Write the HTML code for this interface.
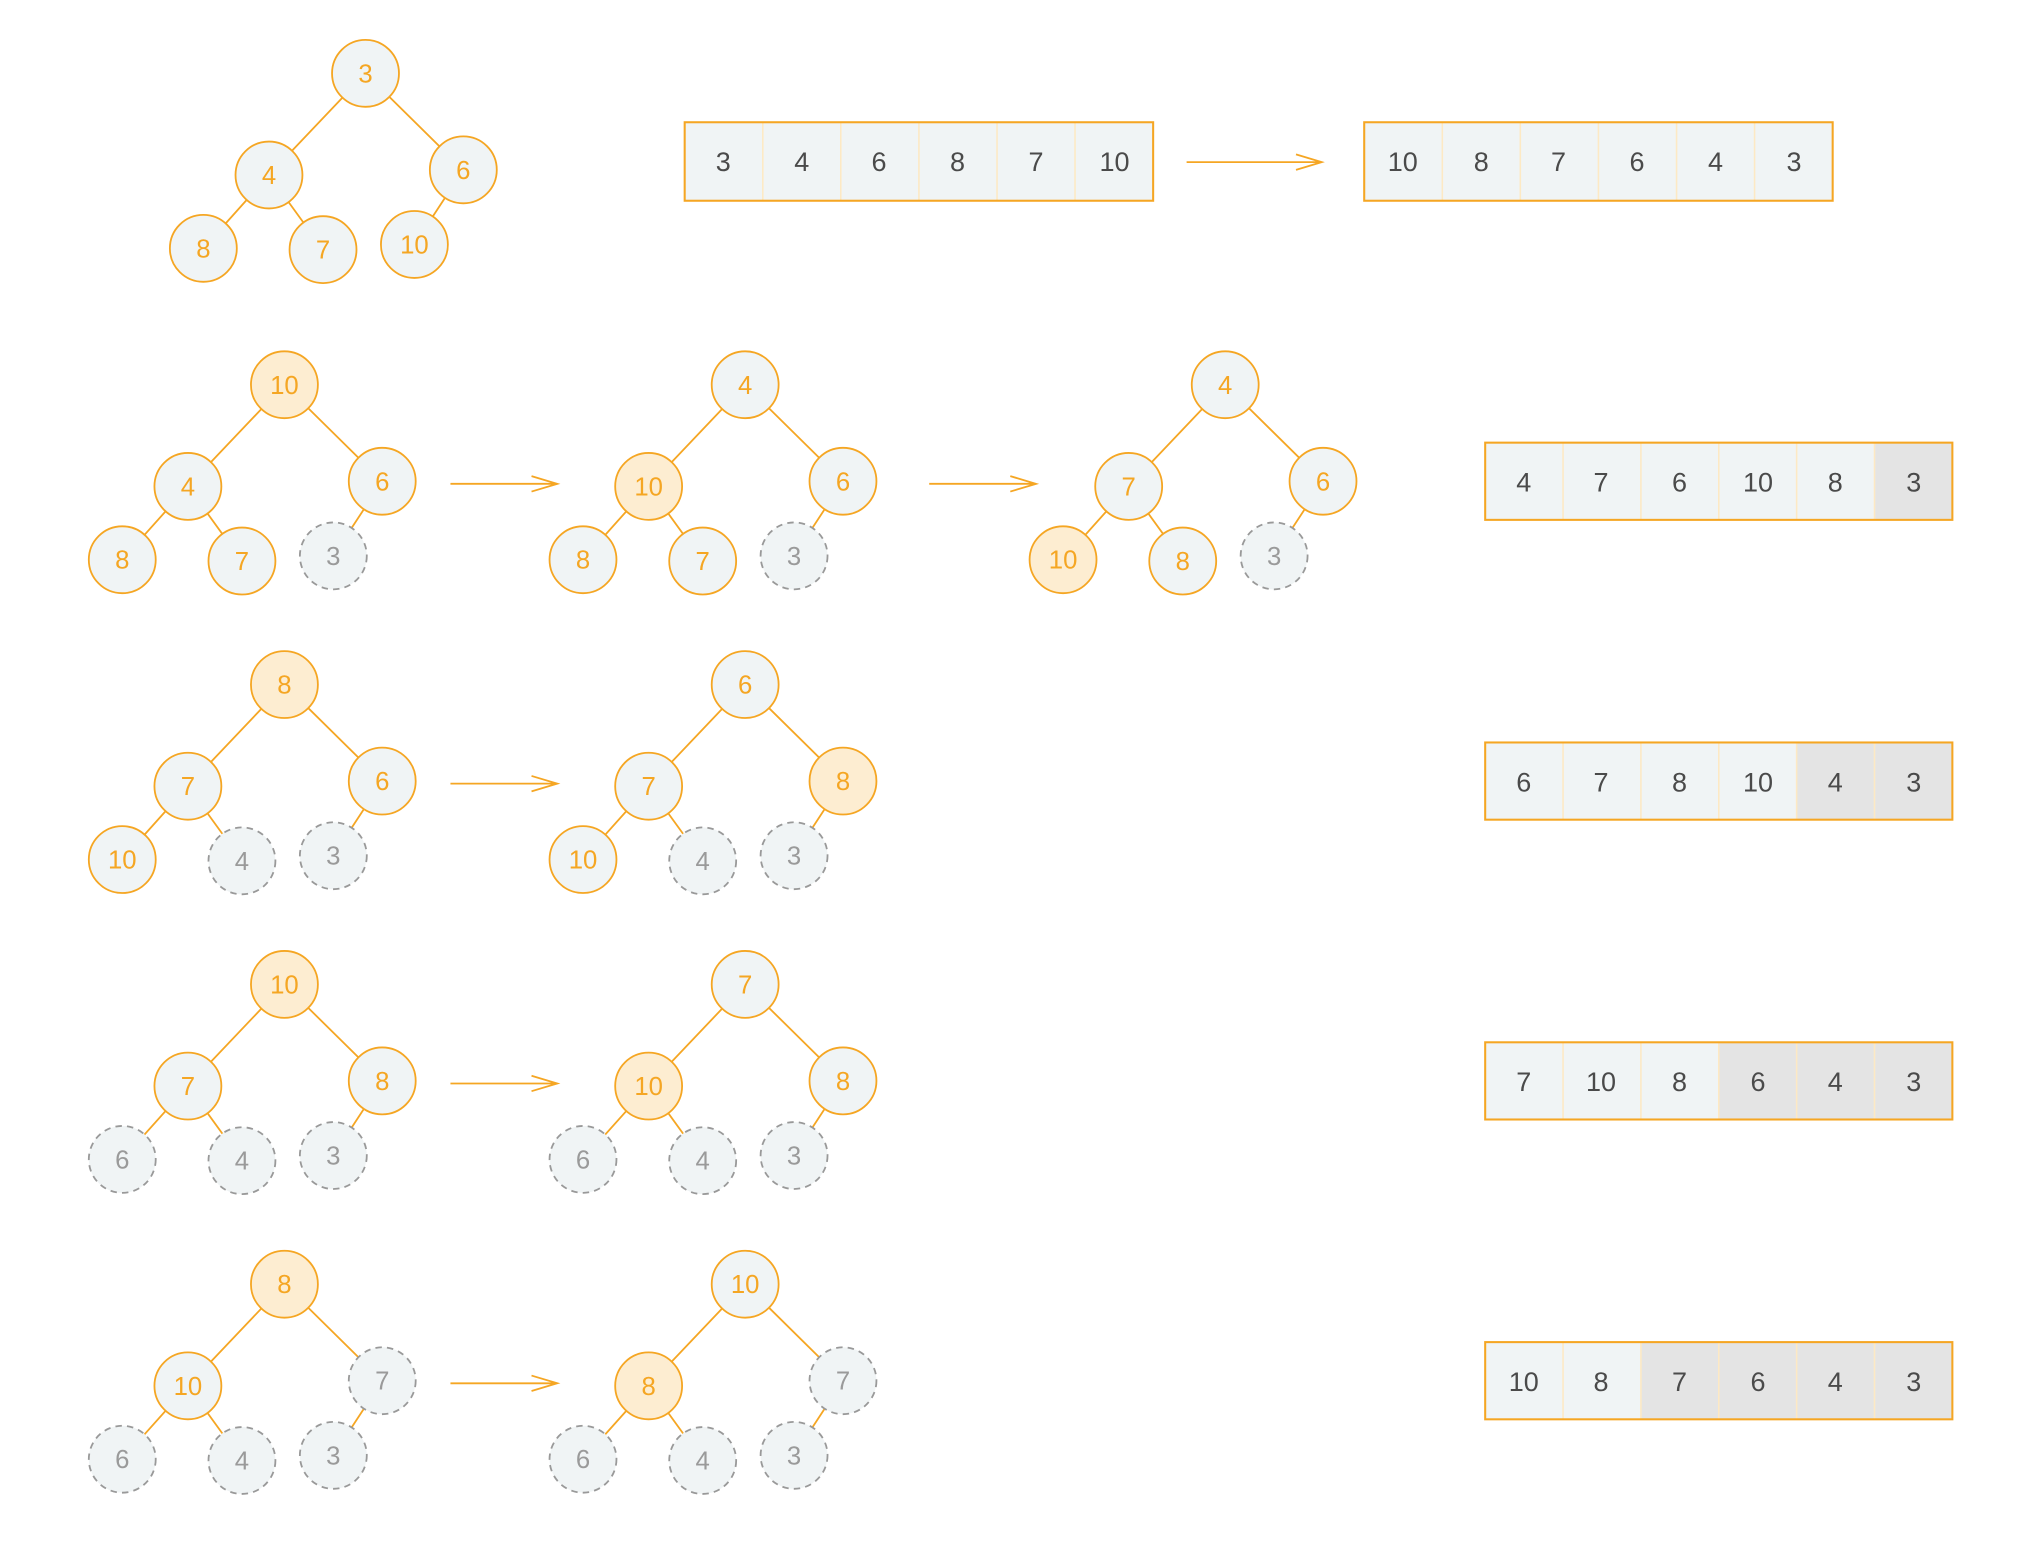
<!DOCTYPE html>
<html><head><meta charset="utf-8"><style>
html,body{margin:0;padding:0;background:#fff}
svg{display:block}
.e{stroke:#f5a623;stroke-width:1.4;fill:none}
circle.o{fill:#f0f4f5;stroke:#f5a623;stroke-width:1.4}
circle.h{fill:#fdedd1;stroke:#f5a623;stroke-width:1.4}
circle.d{fill:#f0f4f5;stroke:#999;stroke-width:1.4;stroke-dasharray:5 4}
text{font-family:"Liberation Sans",sans-serif;font-size:20px;text-anchor:middle}
text.o{fill:#f5a623}
text.g{fill:#9a9a9a}
text.a{fill:#4a4a4a;font-size:21px}
.cell{fill:#f0f4f5}
.dim{fill:#e4e4e4}
.sep{stroke:#fde9c4;stroke-width:1.2}
.box{fill:none;stroke:#f5a623;stroke-width:1.6}
</style></head><body>
<svg width="2018" height="1548" viewBox="0 0 1568 1203" preserveAspectRatio="none" xmlns="http://www.w3.org/2000/svg">
<defs>
<g id="edges"><path class="e" d="M0 0L-75 79M0 0L76 75M-75 79L-126 136M-75 79L-33 137M76 75L38 133"/></g>
</defs>

<!-- Row 1 tree -->
<g transform="translate(284,57)">
<use href="#edges"/>
<circle class="o" cx="0" cy="0" r="26"/><text class="o" x="0" y="7">3</text>
<circle class="o" cx="-75" cy="79" r="26"/><text class="o" x="-75" y="86">4</text>
<circle class="o" cx="76" cy="75" r="26"/><text class="o" x="76" y="82">6</text>
<circle class="o" cx="-126" cy="136" r="26"/><text class="o" x="-126" y="143">8</text>
<circle class="o" cx="-33" cy="137" r="26"/><text class="o" x="-33" y="144">7</text>
<circle class="o" cx="38" cy="133" r="26"/><text class="o" x="38" y="140">10</text>
</g>

<!-- Row 2 -->
<g transform="translate(221,299)">
<use href="#edges"/>
<circle class="h" cx="0" cy="0" r="26"/><text class="o" x="0" y="7">10</text>
<circle class="o" cx="-75" cy="79" r="26"/><text class="o" x="-75" y="86">4</text>
<circle class="o" cx="76" cy="75" r="26"/><text class="o" x="76" y="82">6</text>
<circle class="o" cx="-126" cy="136" r="26"/><text class="o" x="-126" y="143">8</text>
<circle class="o" cx="-33" cy="137" r="26"/><text class="o" x="-33" y="144">7</text>
<circle class="d" cx="38" cy="133" r="26"/><text class="g" x="38" y="140">3</text>
</g>
<g transform="translate(579,299)">
<use href="#edges"/>
<circle class="o" cx="0" cy="0" r="26"/><text class="o" x="0" y="7">4</text>
<circle class="h" cx="-75" cy="79" r="26"/><text class="o" x="-75" y="86">10</text>
<circle class="o" cx="76" cy="75" r="26"/><text class="o" x="76" y="82">6</text>
<circle class="o" cx="-126" cy="136" r="26"/><text class="o" x="-126" y="143">8</text>
<circle class="o" cx="-33" cy="137" r="26"/><text class="o" x="-33" y="144">7</text>
<circle class="d" cx="38" cy="133" r="26"/><text class="g" x="38" y="140">3</text>
</g>
<g transform="translate(952,299)">
<use href="#edges"/>
<circle class="o" cx="0" cy="0" r="26"/><text class="o" x="0" y="7">4</text>
<circle class="o" cx="-75" cy="79" r="26"/><text class="o" x="-75" y="86">7</text>
<circle class="o" cx="76" cy="75" r="26"/><text class="o" x="76" y="82">6</text>
<circle class="h" cx="-126" cy="136" r="26"/><text class="o" x="-126" y="143">10</text>
<circle class="o" cx="-33" cy="137" r="26"/><text class="o" x="-33" y="144">8</text>
<circle class="d" cx="38" cy="133" r="26"/><text class="g" x="38" y="140">3</text>
</g>

<!-- Row 3 -->
<g transform="translate(221,532)">
<use href="#edges"/>
<circle class="h" cx="0" cy="0" r="26"/><text class="o" x="0" y="7">8</text>
<circle class="o" cx="-75" cy="79" r="26"/><text class="o" x="-75" y="86">7</text>
<circle class="o" cx="76" cy="75" r="26"/><text class="o" x="76" y="82">6</text>
<circle class="o" cx="-126" cy="136" r="26"/><text class="o" x="-126" y="143">10</text>
<circle class="d" cx="-33" cy="137" r="26"/><text class="g" x="-33" y="144">4</text>
<circle class="d" cx="38" cy="133" r="26"/><text class="g" x="38" y="140">3</text>
</g>
<g transform="translate(579,532)">
<use href="#edges"/>
<circle class="o" cx="0" cy="0" r="26"/><text class="o" x="0" y="7">6</text>
<circle class="o" cx="-75" cy="79" r="26"/><text class="o" x="-75" y="86">7</text>
<circle class="h" cx="76" cy="75" r="26"/><text class="o" x="76" y="82">8</text>
<circle class="o" cx="-126" cy="136" r="26"/><text class="o" x="-126" y="143">10</text>
<circle class="d" cx="-33" cy="137" r="26"/><text class="g" x="-33" y="144">4</text>
<circle class="d" cx="38" cy="133" r="26"/><text class="g" x="38" y="140">3</text>
</g>

<!-- Row 4 -->
<g transform="translate(221,765)">
<use href="#edges"/>
<circle class="h" cx="0" cy="0" r="26"/><text class="o" x="0" y="7">10</text>
<circle class="o" cx="-75" cy="79" r="26"/><text class="o" x="-75" y="86">7</text>
<circle class="o" cx="76" cy="75" r="26"/><text class="o" x="76" y="82">8</text>
<circle class="d" cx="-126" cy="136" r="26"/><text class="g" x="-126" y="143">6</text>
<circle class="d" cx="-33" cy="137" r="26"/><text class="g" x="-33" y="144">4</text>
<circle class="d" cx="38" cy="133" r="26"/><text class="g" x="38" y="140">3</text>
</g>
<g transform="translate(579,765)">
<use href="#edges"/>
<circle class="o" cx="0" cy="0" r="26"/><text class="o" x="0" y="7">7</text>
<circle class="h" cx="-75" cy="79" r="26"/><text class="o" x="-75" y="86">10</text>
<circle class="o" cx="76" cy="75" r="26"/><text class="o" x="76" y="82">8</text>
<circle class="d" cx="-126" cy="136" r="26"/><text class="g" x="-126" y="143">6</text>
<circle class="d" cx="-33" cy="137" r="26"/><text class="g" x="-33" y="144">4</text>
<circle class="d" cx="38" cy="133" r="26"/><text class="g" x="38" y="140">3</text>
</g>

<!-- Row 5 -->
<g transform="translate(221,998)">
<use href="#edges"/>
<circle class="h" cx="0" cy="0" r="26"/><text class="o" x="0" y="7">8</text>
<circle class="o" cx="-75" cy="79" r="26"/><text class="o" x="-75" y="86">10</text>
<circle class="d" cx="76" cy="75" r="26"/><text class="g" x="76" y="82">7</text>
<circle class="d" cx="-126" cy="136" r="26"/><text class="g" x="-126" y="143">6</text>
<circle class="d" cx="-33" cy="137" r="26"/><text class="g" x="-33" y="144">4</text>
<circle class="d" cx="38" cy="133" r="26"/><text class="g" x="38" y="140">3</text>
</g>
<g transform="translate(579,998)">
<use href="#edges"/>
<circle class="o" cx="0" cy="0" r="26"/><text class="o" x="0" y="7">10</text>
<circle class="h" cx="-75" cy="79" r="26"/><text class="o" x="-75" y="86">8</text>
<circle class="d" cx="76" cy="75" r="26"/><text class="g" x="76" y="82">7</text>
<circle class="d" cx="-126" cy="136" r="26"/><text class="g" x="-126" y="143">6</text>
<circle class="d" cx="-33" cy="137" r="26"/><text class="g" x="-33" y="144">4</text>
<circle class="d" cx="38" cy="133" r="26"/><text class="g" x="38" y="140">3</text>
</g>

<!-- Arrows -->
<g class="e">
<path d="M922 126H1027M1007 120L1027 126L1007 132"/>
<path d="M350 376H433M413 370L433 376L413 382"/>
<path d="M722 376H805M785 370L805 376L785 382"/>
<path d="M350 609H433M413 603L433 609L413 615"/>
<path d="M350 842H433M413 836L433 842L413 848"/>
<path d="M350 1075H433M413 1069L433 1075L413 1081"/>
</g>

<!-- Array 1 -->
<g transform="translate(532,95)">
<rect class="cell" width="364" height="61"/>
<path class="sep" d="M60.7 0V61M121.3 0V61M182 0V61M242.7 0V61M303.3 0V61"/>
<rect class="box" width="364" height="61"/>
<text class="a" x="30" y="38">3</text><text class="a" x="91" y="38">4</text><text class="a" x="151" y="38">6</text><text class="a" x="212" y="38">8</text><text class="a" x="273" y="38">7</text><text class="a" x="334" y="38">10</text>
</g>
<!-- Array 2 -->
<g transform="translate(1060,95)">
<rect class="cell" width="364" height="61"/>
<path class="sep" d="M60.7 0V61M121.3 0V61M182 0V61M242.7 0V61M303.3 0V61"/>
<rect class="box" width="364" height="61"/>
<text class="a" x="30" y="38">10</text><text class="a" x="91" y="38">8</text><text class="a" x="151" y="38">7</text><text class="a" x="212" y="38">6</text><text class="a" x="273" y="38">4</text><text class="a" x="334" y="38">3</text>
</g>
<!-- Row arrays -->
<g transform="translate(1154,344)">
<rect class="cell" width="363" height="60"/>
<rect class="dim" x="303" width="60" height="60"/>
<path class="sep" d="M60.5 0V60M121 0V60M181.5 0V60M242 0V60M302.5 0V60"/>
<rect class="box" width="363" height="60"/>
<text class="a" x="30" y="38">4</text><text class="a" x="90" y="38">7</text><text class="a" x="151" y="38">6</text><text class="a" x="212" y="38">10</text><text class="a" x="272" y="38">8</text><text class="a" x="333" y="38">3</text>
</g>
<g transform="translate(1154,577)">
<rect class="cell" width="363" height="60"/>
<rect class="dim" x="242" width="121" height="60"/>
<path class="sep" d="M60.5 0V60M121 0V60M181.5 0V60M242 0V60M302.5 0V60"/>
<rect class="box" width="363" height="60"/>
<text class="a" x="30" y="38">6</text><text class="a" x="90" y="38">7</text><text class="a" x="151" y="38">8</text><text class="a" x="212" y="38">10</text><text class="a" x="272" y="38">4</text><text class="a" x="333" y="38">3</text>
</g>
<g transform="translate(1154,810)">
<rect class="cell" width="363" height="60"/>
<rect class="dim" x="182" width="181" height="60"/>
<path class="sep" d="M60.5 0V60M121 0V60M181.5 0V60M242 0V60M302.5 0V60"/>
<rect class="box" width="363" height="60"/>
<text class="a" x="30" y="38">7</text><text class="a" x="90" y="38">10</text><text class="a" x="151" y="38">8</text><text class="a" x="212" y="38">6</text><text class="a" x="272" y="38">4</text><text class="a" x="333" y="38">3</text>
</g>
<g transform="translate(1154,1043)">
<rect class="cell" width="363" height="60"/>
<rect class="dim" x="121" width="242" height="60"/>
<path class="sep" d="M60.5 0V60M121 0V60M181.5 0V60M242 0V60M302.5 0V60"/>
<rect class="box" width="363" height="60"/>
<text class="a" x="30" y="38">10</text><text class="a" x="90" y="38">8</text><text class="a" x="151" y="38">7</text><text class="a" x="212" y="38">6</text><text class="a" x="272" y="38">4</text><text class="a" x="333" y="38">3</text>
</g>
</svg>
</body></html>
